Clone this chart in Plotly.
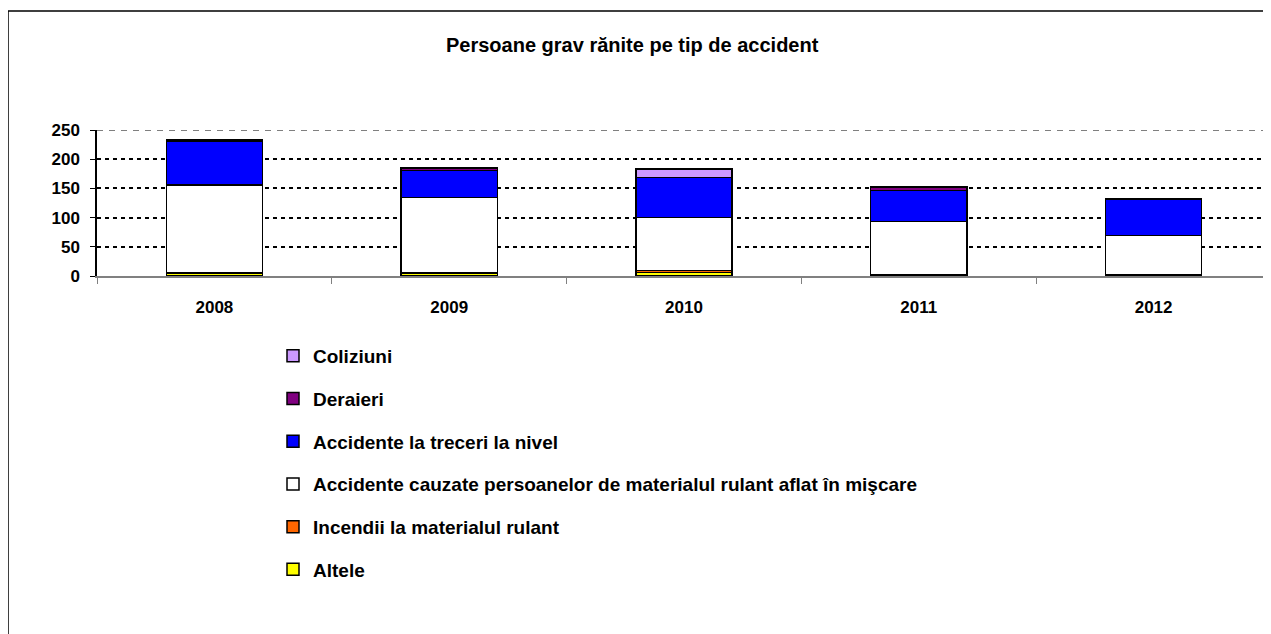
import plotly.graph_objects as go

years = ["2008", "2009", "2010", "2011", "2012"]

altele = [5, 5, 6, 2, 2]
incendii = [0, 0, 3, 0, 0]
accidente_cauzate = [151, 129, 91, 91, 67]
accidente_treceri = [74, 47, 69, 53, 63]
deraieri = [3, 4, 0, 6, 0]
coliziuni = [1, 1, 14, 1, 0]
y_ticks = [0, 50, 100, 150, 200, 250]

series = [
    ("Altele", altele, "#FFFF00"),
    ("Incendii la materialul rulant", incendii, "#FF6600"),
    ("Accidente cauzate persoanelor de materialul rulant aflat în mişcare", accidente_cauzate, "#FFFFFF"),
    ("Accidente la treceri la nivel", accidente_treceri, "#0000FF"),
    ("Deraieri", deraieri, "#800080"),
    ("Coliziuni", coliziuni, "#CC99FF"),
]

FONT = "Liberation Sans, Arial, sans-serif"

fig = go.Figure()
n = len(series)
for i, (name, vals, col) in enumerate(series):
    fig.add_trace(go.Bar(
        x=years, y=vals, name=name, legendgroup=f"g{i}", legendrank=n - i,
        marker=dict(color=col, line=dict(color="black", width=1.5)),
    ))

# page body has an 8px margin; work in screen pixels and convert
OFF = 8
W, H = 1271 - OFF, 634 - OFF
L = 97 - OFF
T = 130 - OFF
B = H - (276 - OFF)
R = 0
pw = W - L - R
ph = H - T - B

def px_x(p):
    return (p - OFF - L) / pw

def px_y(p):
    return (H - B - (p - OFF)) / ph

fig.update_layout(
    width=W, height=H,
    margin=dict(l=L, r=R, t=T, b=B, pad=0),
    barmode="stack",
    bargap=0.59,
    plot_bgcolor="white",
    paper_bgcolor="white",
    font=dict(family=FONT, size=16, color="black"),
    showlegend=True,
    legend=dict(
        x=px_x(273), y=px_y(337), xanchor="left", yanchor="top",
        traceorder="grouped", tracegroupgap=15,
        font=dict(family=FONT, size=19, color="black", weight="bold"),
        bgcolor="rgba(0,0,0,0)",
    ),
    xaxis=dict(
        type="category",
        showline=True, linecolor="#808080", linewidth=1.5,
        ticks="outside", tickson="boundaries", ticklen=6, tickcolor="#808080",
        tickfont=dict(family=FONT, size=17, weight="bold"),
        ticklabelstandoff=15,
        showgrid=False,
    ),
    yaxis=dict(
        range=[0, 250], tickvals=y_ticks,
        showline=True, linecolor="black", linewidth=1.5,
        ticks="outside", ticklen=5, tickcolor="black",
        tickfont=dict(family=FONT, size=17, weight="bold"),
        ticklabelstandoff=7,
        showgrid=True, gridcolor="black", gridwidth=2, griddash="4px,4px",
        zeroline=False,
    ),
    annotations=[dict(
        text="<b>Persoane grav rănite pe tip de accident</b>",
        xref="paper", yref="paper", x=px_x(632), y=px_y(45),
        xanchor="center", yanchor="middle", showarrow=False,
        font=dict(family=FONT, size=20, color="black"),
    )],
    shapes=[
        dict(
            type="rect", xref="paper", yref="paper",
            x0=px_x(8), x1=px_x(1290), y0=px_y(650), y1=px_y(11),
            line=dict(color="black", width=1.5), fillcolor="rgba(0,0,0,0)", layer="below",
        ),
        dict(
            type="line", xref="paper", yref="y",
            x0=0, x1=1, y0=y_ticks[-1], y1=y_ticks[-1],
            line=dict(color="black", width=1, dash="6px,6px"), layer="below",
        ),
    ],
)

fig.write_html("out.html")
